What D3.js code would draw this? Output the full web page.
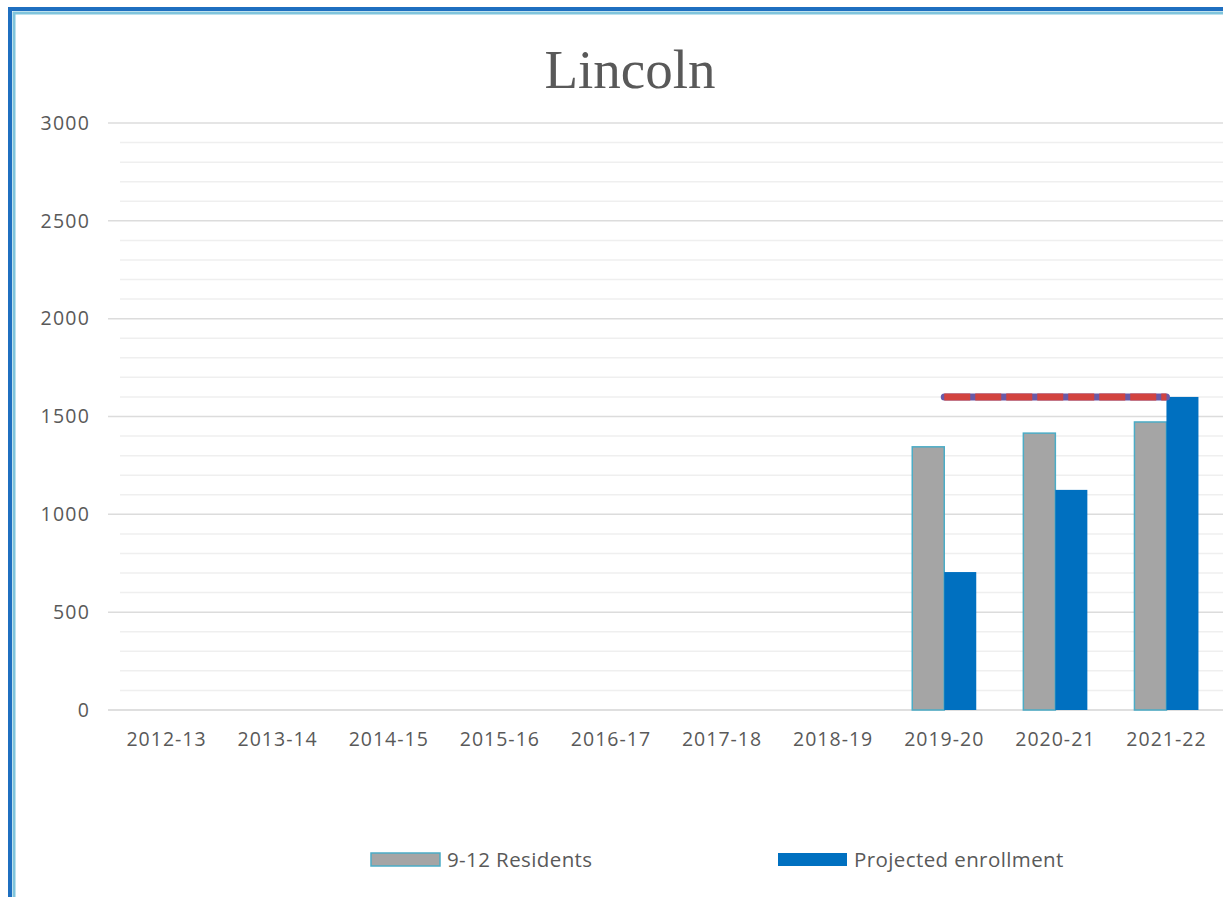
<!DOCTYPE html>
<html>
<head>
<meta charset="utf-8">
<script src="https://cdn.jsdelivr.net/npm/d3@7"></script>
<style>
  html, body { margin: 0; padding: 0; background: #fff; }
  svg { display: block; }
</style>
</head>
<body>
<svg id="chart" width="1223" height="897"></svg>
<script>
// ---- data ----
const categories = ["2012-13","2013-14","2014-15","2015-16","2016-17","2017-18","2018-19","2019-20","2020-21","2021-22"];
const residents  = [null, null, null, null, null, null, null, 1345, 1415, 1472];
const projected  = [null, null, null, null, null, null, null, 705, 1125, 1600];
const capacity   = [null, null, null, null, null, null, null, 1600, 1600, 1600];
const yTicks     = [0, 500, 1000, 1500, 2000, 2500, 3000];
const seriesNames = ["9-12 Residents", "Projected enrollment"];

const W = 1223, H = 897;
const svg = d3.select("#chart");

// frame border (blue outer, light-blue inner)
svg.append("rect").attr("x", 10).attr("y", 9).attr("width", W + 20).attr("height", H + 20)
  .attr("fill", "none").attr("stroke", "#1f6fc0").attr("stroke-width", 4);
svg.append("rect").attr("x", 14).attr("y", 13).attr("width", W + 20).attr("height", H + 20)
  .attr("fill", "none").attr("stroke", "#7fc4dc").attr("stroke-width", 3);

const x = d3.scaleBand().domain(categories).range([111, 1222]).paddingInner(0).paddingOuter(0);
const y = d3.scaleLinear().domain([0, 3000]).range([710, 123]);

const gridX0 = 108, gridX1 = 1223;

// minor gridlines
const minor = d3.range(100, 3000, 100).filter(v => v % 500 !== 0);
svg.append("g").selectAll("line").data(minor).join("line")
  .attr("x1", gridX0 + 12).attr("x2", gridX1)
  .attr("y1", d => y(d)).attr("y2", d => y(d))
  .attr("stroke", "#efefef").attr("stroke-width", 1.5);

// major gridlines
svg.append("g").selectAll("line").data(yTicks).join("line")
  .attr("x1", gridX0).attr("x2", gridX1)
  .attr("y1", d => y(d)).attr("y2", d => y(d))
  .attr("stroke", d => d === 0 ? "#d4d4d4" : "#dcdcdc").attr("stroke-width", 1.5);

// y axis labels
const yAxis = d3.axisLeft(y).tickValues(yTicks).tickFormat(d3.format("d")).tickSize(0).tickPadding(0);
const gy = svg.append("g").attr("transform", "translate(90,0)").call(yAxis);
gy.select(".domain").remove();
gy.selectAll("text")
  .attr("font-family", "'Open Sans', sans-serif").attr("font-size", 19.5)
  .attr("letter-spacing", 1.2).attr("fill", "#595959");

// x axis labels
const xAxis = d3.axisBottom(x).tickSize(0).tickPadding(0);
const gx = svg.append("g").attr("transform", "translate(0,732)").call(xAxis);
gx.select(".domain").remove();
gx.selectAll("text")
  .attr("font-family", "'Open Sans', sans-serif").attr("font-size", 19.5)
  .attr("letter-spacing", 1.0).attr("fill", "#595959");

// bars
const inner = d3.scaleBand().domain([0, 1]).range([0, 64]);
const barW = 32;
const groupOff = d => x(d) + x.bandwidth() / 2 - 32;

const resData = categories.map((c, i) => ({c, v: residents[i]})).filter(d => d.v != null);
const projData = categories.map((c, i) => ({c, v: projected[i]})).filter(d => d.v != null);

svg.append("g").selectAll("rect").data(resData).join("rect")
  .attr("x", d => groupOff(d.c) + inner(0))
  .attr("y", d => y(d.v))
  .attr("width", barW)
  .attr("height", d => y(0) - y(d.v))
  .attr("fill", "#a5a5a5")
  .attr("stroke", "#4bacc6").attr("stroke-width", 1.5);

svg.append("g").selectAll("rect").data(projData).join("rect")
  .attr("x", d => groupOff(d.c) + inner(1))
  .attr("y", d => y(d.v))
  .attr("width", barW)
  .attr("height", d => y(0) - y(d.v))
  .attr("fill", "#0070c0");

// capacity dashed line
const capData = categories.map((c, i) => ({c, v: capacity[i]})).filter(d => d.v != null);
const line = d3.line().x(d => x(d.c) + x.bandwidth() / 2).y(d => y(d.v));
svg.append("path").datum(capData).attr("d", line)
  .attr("fill", "none").attr("stroke", "#6a5aa8").attr("stroke-width", 7)
  .attr("stroke-linecap", "round");
svg.append("path").datum(capData).attr("d", line)
  .attr("fill", "none").attr("stroke", "#d2433f").attr("stroke-width", 7)
  .attr("stroke-dasharray", "26,5").attr("stroke-linecap", "butt");

// title
svg.append("text").attr("x", 630).attr("y", 88).attr("text-anchor", "middle")
  .attr("font-family", "'Liberation Serif', 'DejaVu Serif', serif").attr("font-size", 55)
  .attr("fill", "#595959").text("Lincoln");

// legend
const legend = [
  {name: seriesNames[0], fill: "#a5a5a5", stroke: "#4bacc6", x: 371},
  {name: seriesNames[1], fill: "#0070c0", stroke: null, x: 778}
];
const lg = svg.append("g").selectAll("g").data(legend).join("g")
  .attr("transform", d => `translate(${d.x},853)`);
lg.append("rect").attr("width", 69).attr("height", 13)
  .attr("fill", d => d.fill)
  .attr("stroke", d => d.stroke || "none").attr("stroke-width", 1.5);
lg.append("text").attr("x", 76).attr("y", 14)
  .attr("font-family", "'Open Sans', sans-serif").attr("font-size", 20.5)
  .attr("letter-spacing", 0.4).attr("fill", "#595959")
  .text(d => d.name);
</script>
</body>
</html>
